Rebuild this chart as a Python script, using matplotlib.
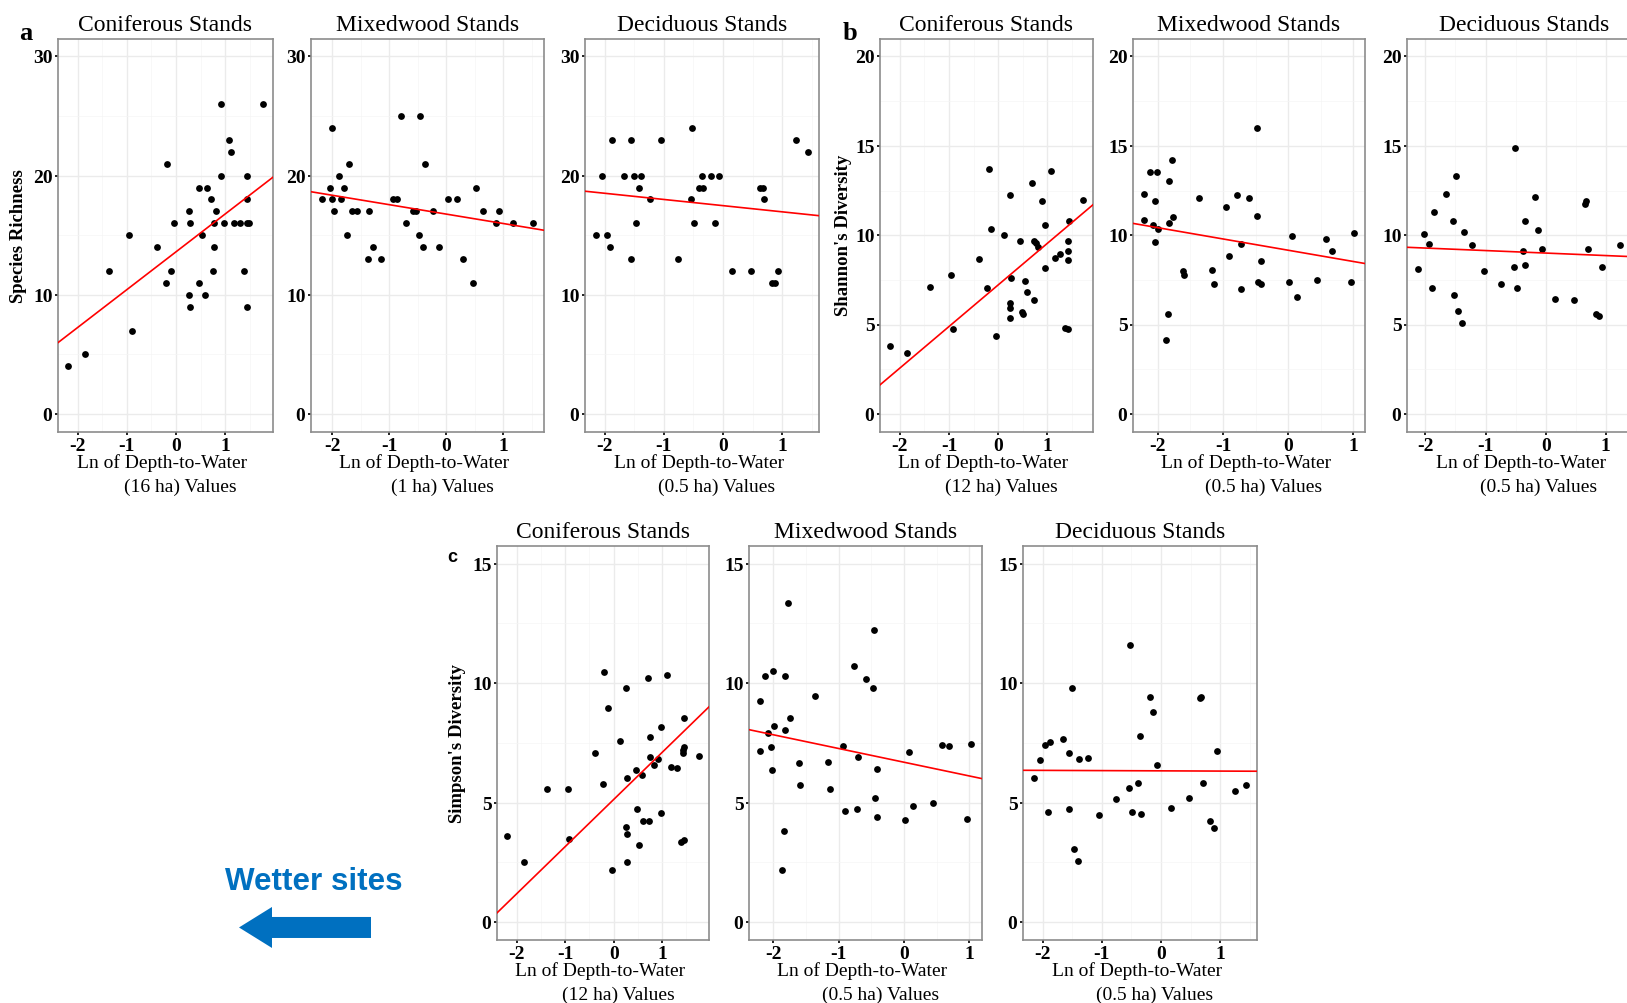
import numpy as np
import matplotlib
matplotlib.use("Agg")
import matplotlib.pyplot as plt
from matplotlib.patches import FancyArrow
from matplotlib.ticker import MultipleLocator

plt.rcParams['font.family'] = ['Liberation Serif', 'DejaVu Serif']
plt.rcParams['axes.unicode_minus'] = False

W, H = 1627, 1003

# ---- data ----
# (a) species richness
a_con_x = [-2.20, -1.86, -1.37, -0.95, -0.90, -0.38, -0.21, -0.18, -0.11, -0.05,
           0.28, 0.26, 0.26, 0.29, 0.46, 0.47, 0.52, 0.59, 0.62, 0.71,
           0.76, 0.76, 0.75, 0.82, 0.91, 0.91, 0.98, 1.08, 1.11, 1.18,
           1.29, 1.38, 1.44, 1.44, 1.44, 1.48, 1.44, 1.77]
a_con_y = [4, 5, 12, 15, 7, 14, 11, 21, 12, 16,
           16, 17, 10, 9, 19, 11, 15, 10, 19, 18,
           16, 14, 12, 17, 26, 20, 16, 23, 22, 16,
           16, 12, 20, 18, 16, 16, 9, 26]
a_mix_x = [-2.19, -2.05, -2.01, -2.00, -1.97, -1.89, -1.85, -1.80, -1.75, -1.70,
           -1.66, -1.57, -1.38, -1.35, -1.29, -1.15, -0.94, -0.86, -0.79, -0.71,
           -0.58, -0.53, -0.48, -0.46, -0.41, -0.37, -0.23, -0.13, 0.03, 0.18,
           0.29, 0.47, 0.53, 0.65, 0.88, 0.92, 1.18, 1.53]
a_mix_y = [18, 19, 24, 18, 17, 20, 18, 19, 15, 21,
           17, 17, 13, 17, 14, 13, 18, 18, 25, 16,
           17, 17, 15, 25, 14, 21, 17, 14, 18, 18,
           13, 11, 19, 17, 16, 17, 16, 16]
a_dec_x = [-2.15, -2.05, -1.96, -1.91, -1.88, -1.67, -1.55, -1.55, -1.51, -1.47,
           -1.41, -1.38, -1.24, -1.05, -0.76, -0.54, -0.53, -0.49, -0.41, -0.36,
           -0.34, -0.20, -0.14, -0.07, 0.15, 0.47, 0.63, 0.68, 0.69, 0.82,
           0.88, 0.93, 1.23, 1.44]
a_dec_y = [15, 20, 15, 14, 23, 20, 23, 13, 20, 16,
           19, 20, 18, 23, 13, 18, 24, 16, 19, 20,
           19, 20, 16, 20, 12, 12, 19, 19, 18, 11,
           11, 12, 23, 22]

# (b) Shannon's diversity
b_con_x = [-2.21, -1.86, -1.38, -0.96, -0.92, -0.39, -0.23, -0.19, -0.14, -0.04,
           0.12, 0.24, 0.27, 0.25, 0.24, 0.25, 0.44, 0.49, 0.51, 0.56,
           0.60, 0.69, 0.73, 0.74, 0.77, 0.82, 0.90, 0.95, 0.96, 1.08,
           1.16, 1.27, 1.36, 1.42, 1.42, 1.42, 1.45, 1.42, 1.74]
b_con_y = [3.78, 3.43, 7.10, 7.75, 4.73, 8.69, 7.06, 13.70, 10.33, 4.38,
           10.00, 12.26, 7.59, 6.19, 5.91, 5.37, 9.70, 5.72, 5.57, 7.42,
           6.84, 12.92, 6.36, 9.70, 9.57, 9.36, 11.90, 8.15, 10.57, 13.60,
           8.70, 8.93, 4.79, 9.11, 9.66, 8.59, 10.81, 4.73, 11.97]
b_mix_x = [-2.22, -2.22, -2.12, -2.08, -2.04, -2.01, -2.00, -2.04, -1.88, -1.84,
           -1.83, -1.83, -1.78, -1.76, -1.62, -1.60, -1.37, -1.17, -1.14, -0.95,
           -0.91, -0.78, -0.73, -0.72, -0.60, -0.48, -0.48, -0.46, -0.42, -0.41,
           0.02, 0.06, 0.13, 0.44, 0.58, 0.68, 0.96, 1.02]
b_mix_y = [12.28, 10.85, 13.55, 10.59, 11.91, 13.55, 10.35, 9.64, 4.14, 5.59,
           13.05, 10.70, 14.21, 11.03, 7.98, 7.77, 12.06, 8.03, 7.29, 11.56,
           8.86, 12.25, 6.99, 9.51, 12.10, 15.99, 11.10, 7.36, 8.56, 7.29,
           7.40, 9.95, 6.54, 7.47, 9.81, 9.09, 7.36, 10.12]
b_dec_x = [-2.13, -2.03, -1.94, -1.89, -1.86, -1.65, -1.54, -1.53, -1.49, -1.45,
           -1.39, -1.36, -1.22, -1.03, -0.74, -0.52, -0.51, -0.47, -0.37, -0.35,
           -0.34, -0.18, -0.13, -0.06, 0.16, 0.48, 0.65, 0.68, 0.70, 0.83,
           0.88, 0.94, 1.24, 1.41]
b_dec_y = [8.13, 10.04, 9.49, 7.06, 11.29, 12.32, 10.81, 6.65, 13.31, 5.74,
           5.07, 10.20, 9.45, 7.98, 7.29, 8.24, 14.90, 7.02, 9.09, 10.77,
           8.35, 12.13, 10.28, 9.25, 6.45, 6.38, 11.72, 11.89, 9.22, 5.61,
           5.50, 8.20, 9.45, 10.44]

# (c) Simpson's diversity
c_con_x = [-2.21, -1.86, -1.38, -0.95, -0.92, -0.39, -0.22, -0.19, -0.12, -0.03,
           0.13, 0.26, 0.28, 0.26, 0.27, 0.27, 0.47, 0.48, 0.52, 0.59,
           0.61, 0.70, 0.74, 0.76, 0.76, 0.83, 0.92, 0.97, 0.97, 1.10,
           1.18, 1.30, 1.39, 1.45, 1.44, 1.44, 1.46, 1.46, 1.77]
c_con_y = [3.60, 2.51, 5.59, 5.59, 3.49, 7.09, 5.79, 10.47, 8.97, 2.19,
           7.59, 9.80, 6.03, 3.98, 3.70, 2.51, 6.35, 4.74, 3.24, 6.15,
           4.22, 10.20, 4.25, 7.76, 6.92, 6.56, 6.81, 8.18, 4.56, 10.35,
           6.50, 6.47, 3.37, 3.42, 7.08, 7.22, 7.34, 8.55, 6.94]
c_mix_x = [-2.21, -2.20, -2.12, -2.08, -2.03, -2.02, -2.00, -1.99, -1.87, -1.83,
           -1.82, -1.82, -1.77, -1.75, -1.61, -1.59, -1.36, -1.16, -1.13, -0.94,
           -0.90, -0.76, -0.72, -0.71, -0.58, -0.47, -0.46, -0.45, -0.41, -0.41,
           0.02, 0.07, 0.14, 0.45, 0.58, 0.69, 0.97, 1.03]
c_mix_y = [7.14, 9.25, 10.28, 7.91, 7.31, 6.38, 10.50, 8.22, 2.19, 3.81,
           10.28, 8.02, 13.37, 8.55, 6.66, 5.75, 9.46, 6.71, 5.59, 7.38,
           4.66, 10.73, 4.74, 6.92, 10.17, 9.78, 12.21, 5.19, 6.42, 4.41,
           4.26, 7.12, 4.86, 4.97, 7.41, 7.39, 4.31, 7.45]
c_dec_x = [-2.15, -2.04, -1.95, -1.90, -1.87, -1.66, -1.55, -1.55, -1.50, -1.47,
           -1.40, -1.38, -1.23, -1.04, -0.76, -0.54, -0.52, -0.49, -0.39, -0.36,
           -0.34, -0.19, -0.14, -0.07, 0.16, 0.48, 0.65, 0.68, 0.70, 0.82,
           0.89, 0.94, 1.24, 1.44]
c_dec_y = [6.04, 6.80, 7.42, 4.61, 7.53, 7.68, 7.09, 4.72, 9.78, 3.07,
           2.54, 6.81, 6.87, 4.48, 5.14, 5.61, 11.60, 4.60, 5.82, 7.80,
           4.53, 9.41, 8.78, 6.58, 4.76, 5.19, 9.36, 9.41, 5.83, 4.22,
           3.92, 7.17, 5.47, 5.75]

# fitted lines (intercept, slope) as drawn
a_fits = [(13.61, 3.18), (16.77, -0.79), (17.48, -0.52)]
b_fits = [(7.21, 2.32), (9.16, -0.63), (9.00, -0.14)]
c_fits = [(5.13, 1.97), (6.69, -0.575), (6.33, -0.01)]

stand_titles = ["Coniferous Stands", "Mixedwood Stands", "Deciduous Stands"]
a_areas = ["16 ha", "1 ha", "0.5 ha"]
b_areas = ["12 ha", "0.5 ha", "0.5 ha"]
c_areas = ["12 ha", "0.5 ha", "0.5 ha"]
y_titles = ["Species Richness", "Shannon's Diversity", "Simpson's Diversity"]
y_maxes = [30, 20, 15]
y_steps = [10, 5, 5]

# ---- layout (pixels) ----
row_a = (39, 432)
row_c = (546, 940)
a_cols = [(58, 273), (311, 544), (585, 819)]
b_cols = [(880, 1093), (1133, 1365), (1407, 1641)]
c_cols = [(497, 709), (749, 982), (1023, 1257)]

fig = plt.figure(figsize=(W / 100, H / 100 + 0.004), dpi=100)

ov = fig.add_axes([0, 0, 1, 1])
ov.set_xlim(0, W)
ov.set_ylim(H, 0)
ov.axis('off')


def panel(cols, row, xs, ys, fit, title, area, ymax, ystep):
    l, r = cols
    t, b = row
    ax = fig.add_axes([l / W, 1 - b / H, (r - l) / W, (b - t) / H])
    xs = np.array(xs)
    rng = xs.max() - xs.min()
    ax.set_xlim(xs.min() - 0.05 * rng, xs.max() + 0.05 * rng)
    ax.set_ylim(-0.05 * ymax, 1.05 * ymax)
    ax.xaxis.set_major_locator(MultipleLocator(1))
    ax.yaxis.set_major_locator(MultipleLocator(ystep))
    ax.xaxis.set_minor_locator(MultipleLocator(0.5))
    ax.yaxis.set_minor_locator(MultipleLocator(ystep / 2))
    ax.grid(True, which='major', color='#EBEBEB', lw=1.0)
    ax.grid(True, which='minor', color='#F5F5F5', lw=0.5)
    ax.set_axisbelow(True)
    ax.scatter(xs, ys, s=24, c='black', linewidths=0, zorder=3)
    ax.axline((0, fit[0]), slope=fit[1], color='red', lw=1.2, zorder=4)
    for sp in ax.spines.values():
        sp.set_color('#8C8C8C')
        sp.set_linewidth(1.2)
    ax.tick_params(which='major', length=2.5, width=1.4, color='#222222',
                   labelsize=14, pad=1.5)
    ax.tick_params(which='minor', length=0)
    for lab in ax.get_xticklabels() + ax.get_yticklabels():
        lab.set_fontweight('bold')
    cx = (l + r) / 2
    ov.text(cx, t - 8, title, ha='center', va='baseline', fontsize=17)
    ov.text(cx - 3, b + 36, "Ln of Depth-to-Water", ha='center',
            va='baseline', fontsize=14)
    ov.text(cx + 15, b + 60, "(%s) Values" % area, ha='center',
            va='baseline', fontsize=14)
    return ax


a_data = [(a_con_x, a_con_y), (a_mix_x, a_mix_y), (a_dec_x, a_dec_y)]
b_data = [(b_con_x, b_con_y), (b_mix_x, b_mix_y), (b_dec_x, b_dec_y)]
c_data = [(c_con_x, c_con_y), (c_mix_x, c_mix_y), (c_dec_x, c_dec_y)]

for i in range(3):
    panel(a_cols[i], row_a, *a_data[i], a_fits[i], stand_titles[i], a_areas[i],
          y_maxes[0], y_steps[0])
    panel(b_cols[i], row_a, *b_data[i], b_fits[i], stand_titles[i], b_areas[i],
          y_maxes[1], y_steps[1])
    panel(c_cols[i], row_c, *c_data[i], c_fits[i], stand_titles[i], c_areas[i],
          y_maxes[2], y_steps[2])

# y axis titles
ov.text(19, (row_a[0] + row_a[1]) / 2, y_titles[0], rotation=90, ha='center',
        va='center', fontsize=13.5, fontweight='bold')
ov.text(844, (row_a[0] + row_a[1]) / 2, y_titles[1], rotation=90, ha='center',
        va='center', fontsize=13.5, fontweight='bold')
ov.text(458, (row_c[0] + row_c[1]) / 2, y_titles[2], rotation=90, ha='center',
        va='center', fontsize=13.5, fontweight='bold')

# panel letters
ov.text(26, 40, "a", ha='center', va='baseline', fontsize=19, fontweight='bold')
ov.text(850, 40, "b", ha='center', va='baseline', fontsize=19, fontweight='bold')
ov.text(452, 562, "c", ha='center', va='baseline', fontsize=13,
        fontweight='bold', family='Liberation Sans')

# wetter sites annotation
ov.text(225, 890, "Wetter sites", ha='left', va='baseline', fontsize=22.6,
        fontweight='bold', family='Liberation Sans', color='#0070C0')
ov.add_patch(FancyArrow(371, 927.5, -132, 0, width=21, head_width=41,
                        head_length=33, length_includes_head=True,
                        color='#0070C0', lw=0))

fig.savefig("out.png", dpi=100)
